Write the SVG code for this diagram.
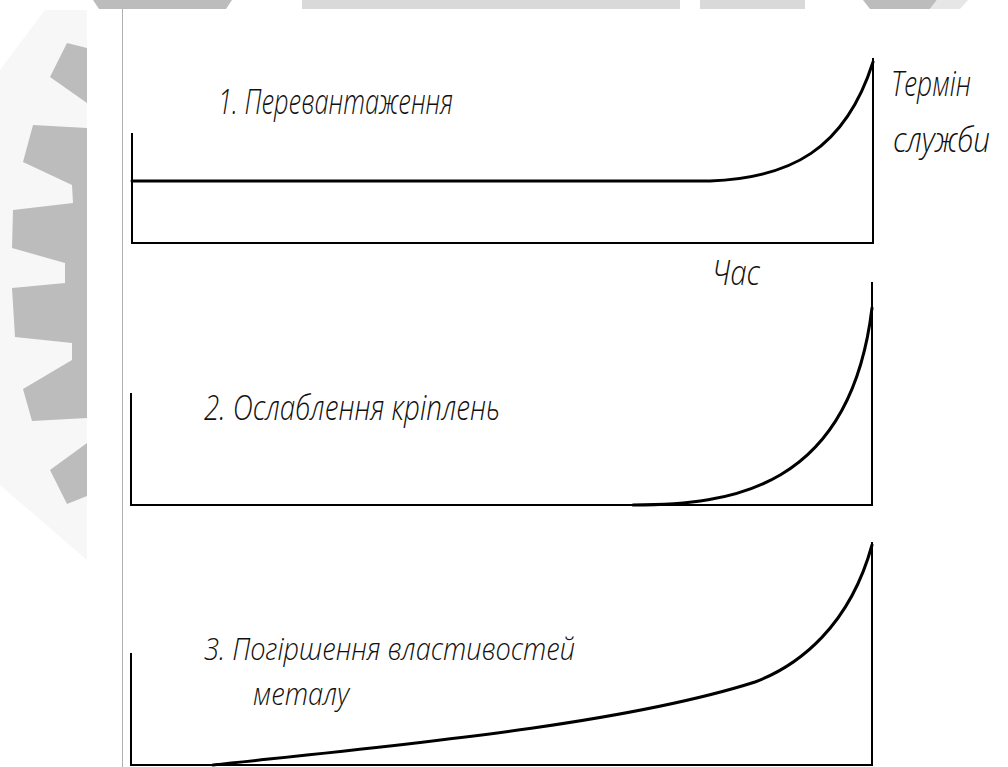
<svg xmlns="http://www.w3.org/2000/svg" width="1008" height="767" viewBox="0 0 1008 767">
  <defs>
    <style>
      .wm { fill: #bcbcbc; }
      .wml { fill: #d9d9d9; }
      .axis { fill: none; stroke: #000; stroke-width: 2; stroke-linecap: square; }
      .curve { fill: none; stroke: #000; stroke-width: 3; stroke-linecap: round; }
      .lbl { font-family: "Open Sans", "DejaVu Sans Condensed", sans-serif; font-style: italic; font-weight: 300; font-size: 35px; fill: #111; }
      .sm { font-size: 32px; }
    </style>
  </defs>
  <rect width="1008" height="767" fill="#ffffff"/>
  <g id="watermark">
    <polygon points="0,70 45,10 87,10 87,560 0,485" fill="#f7f7f7"/>
    <polygon class="wm" points="87,48 67,43 50,77 87,103"/>
    <polygon class="wm" points="87,128 33,125 23,162 72,185 73,203 13,210 12,248 65,263 65,283 12,288 15,337 72,343 72,360 23,389 32,421 87,418"/>
    <polygon class="wm" points="87,443 50,470 67,504 87,496"/>
    <polygon class="wm" points="93,0 232,0 226,9 99,9"/>
    <polygon class="wml" points="302,0 680,0 680,9 302,9"/>
    <polygon class="wml" points="700,0 805,0 805,9 700,9"/>
    <polygon class="wm" points="863,0 937,0 930,9 870,9"/>
    <polygon points="937,0 968,0 960,9 930,9" fill="#e6e6e6"/>
  </g>
  <line x1="122.5" y1="9" x2="122.5" y2="767" stroke="#b0b0b0" stroke-width="1"/>
  <g id="connectors">
    <g id="chart1">
      <polyline class="axis" points="132,134 132,243 873,243 873,59"/>
      <path class="curve" d="M132,181 H710 C790,178 845,150 873,62"/>
    </g>
    <g id="chart2">
      <polyline class="axis" points="131,394 131,505 872,505 872,283"/>
      <path class="curve" d="M633,505 C730,505 850,490 872,308"/>
    </g>
    <g id="chart3">
      <polyline class="axis" points="131,654 131,765 872,765 872,543"/>
      <path class="curve" d="M213,765 C400,745 620,725 755,682 C800,665 850,625 872,545"/>
    </g>
  </g>
  <g id="label1"><text class="lbl" x="218" y="114" textLength="235" lengthAdjust="spacingAndGlyphs">1. Перевантаження</text></g>
  <g id="label-term"><text class="lbl" x="891" y="96" textLength="80" lengthAdjust="spacingAndGlyphs">Термін</text>
    <text class="lbl" x="893" y="152" textLength="97" lengthAdjust="spacingAndGlyphs">служби</text></g>
  <g id="label-time"><text class="lbl" x="712" y="285" textLength="48" lengthAdjust="spacingAndGlyphs">Час</text></g>
  <g id="label2"><text class="lbl" x="204" y="420" textLength="296" lengthAdjust="spacingAndGlyphs">2. Ослаблення кріплень</text></g>
  <g id="label3"><text class="lbl sm" x="204" y="660" textLength="371" lengthAdjust="spacingAndGlyphs">3. Погіршення властивостей</text>
    <text class="lbl sm" x="253" y="705" textLength="96" lengthAdjust="spacingAndGlyphs">металу</text></g>
</svg>
